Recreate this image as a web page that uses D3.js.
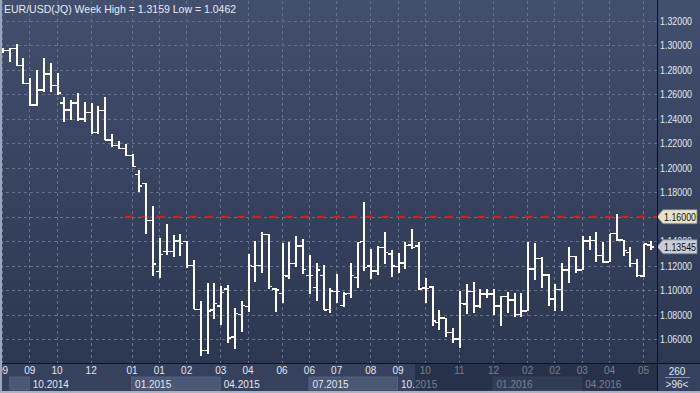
<!DOCTYPE html>
<html lang="en">
<head>
<meta charset="UTF-8">
<title>EUR/USD(JQ) Week</title>
<style>
  body { margin: 0; background: #2f3a55; }
  svg { display: block; font-family: "Liberation Sans", Arial, sans-serif; }
</style>
</head>
<body>
<svg id="chart" width="700" height="393"></svg>
<script src="https://cdnjs.cloudflare.com/ajax/libs/d3/7.9.0/d3.min.js"></script>
<script>
// weekly OHLC
const opens = [1.2961,1.2955,1.2975,1.2833,1.2689,1.2512,1.2634,1.2765,1.2669,1.2528,
  1.2471,1.2528,1.2398,1.2452,1.2286,1.2465,1.2226,1.2183,1.2158,1.2100,
  1.1946,1.1871,1.1569,1.1154,1.1316,1.1316,1.1403,1.1398,1.1200,1.0844,
  1.0506,1.0838,1.0871,1.1008,1.0616,1.0803,1.0865,1.1192,1.1200,1.1456,
  1.1010,1.0975,1.1116,1.1220,1.1361,1.1118,1.1024,1.1122,1.0844,1.0988,
  1.0874,1.0975,1.1105,1.1396,1.1198,1.1157,1.1347,1.1296,1.1192,1.1224,
  1.1369,1.1361,1.1018,1.1026,1.0738,1.0773,1.0655,1.0602,1.0887,1.0988,
  1.0871,1.0969,1.0969,1.0871,1.0947,1.0920,1.0803,1.0830,1.1173,1.1260,
  1.1124,1.0928,1.1007,1.1165,1.1274,1.1165,1.1402,1.1406,1.1283,1.1230,
  1.1461,1.1408,1.1308,1.1220,1.1117,1.1369];
const highs = [1.2977,1.2980,1.3006,1.2898,1.2730,1.2798,1.2898,1.2852,1.2776,1.2577,
  1.2553,1.2607,1.2539,1.2526,1.2504,1.2580,1.2273,1.2222,1.2191,1.2109,
  1.1981,1.1875,1.1687,1.1428,1.1539,1.1451,1.1457,1.1398,1.1247,1.0912,
  1.1056,1.1056,1.1033,1.1043,1.0855,1.0912,1.1296,1.1402,1.1473,1.1459,
  1.1016,1.1388,1.1391,1.1443,1.1416,1.1287,1.1225,1.1206,1.1020,1.1132,
  1.0983,1.1225,1.1391,1.1718,1.1336,1.1363,1.1473,1.1328,1.1306,1.1396,
  1.1500,1.1396,1.1102,1.1037,1.0838,1.0776,1.0691,1.0994,1.1048,1.1065,
  1.1007,1.1007,1.1007,1.0953,1.0988,1.0980,1.0980,1.1391,1.1388,1.1269,
  1.1131,1.1047,1.1220,1.1351,1.1283,1.1443,1.1443,1.1475,1.1396,1.1462,
  1.1624,1.1410,1.1355,1.1253,1.1381,1.1403];
const lows = [1.2936,1.2860,1.2833,1.2681,1.2506,1.2506,1.2620,1.2616,1.2594,1.2373,
  1.2389,1.2381,1.2371,1.2273,1.2273,1.2226,1.2169,1.2149,1.2098,1.2006,
  1.1804,1.1461,1.1118,1.1102,1.1289,1.1274,1.1281,1.1179,1.0844,1.0463,
  1.0479,1.0763,1.0720,1.0571,1.0522,1.0661,1.0825,1.1069,1.1138,1.1007,
  1.0825,1.0893,1.1089,1.1192,1.1130,1.0969,1.0914,1.0838,1.0811,1.0898,
  1.0860,1.0934,1.1020,1.1157,1.1089,1.1124,1.1214,1.1110,1.1138,1.1173,
  1.1336,1.1002,1.0898,1.0710,1.0675,1.0620,1.0573,1.0526,1.0807,1.0811,
  1.0852,1.0934,1.0798,1.0710,1.0811,1.0784,1.0784,1.0830,1.1083,1.1020,
  1.0871,1.0830,1.0830,1.1059,1.1143,1.1163,1.1328,1.1233,1.1222,1.1230,
  1.1402,1.1279,1.1188,1.1106,1.1108,1.1328];
const closes = [1.2955,1.2975,1.2833,1.2689,1.2512,1.2634,1.2765,1.2669,1.2610,1.2471,
  1.2528,1.2398,1.2452,1.2286,1.2465,1.2226,1.2183,1.2158,1.2100,1.2010,
  1.1851,1.1569,1.1212,1.1293,1.1316,1.1403,1.1383,1.1202,1.0844,1.0506,
  1.0830,1.0893,1.0983,1.0611,1.0811,1.0874,1.1200,1.1200,1.1456,1.1029,
  1.1002,1.1118,1.1220,1.1361,1.1171,1.1118,1.1165,1.0838,1.0994,1.0988,
  1.0969,1.1122,1.1391,1.1184,1.1157,1.1347,1.1306,1.1198,1.1224,1.1363,
  1.1350,1.1010,1.1012,1.0749,1.0773,1.0655,1.0602,1.0893,1.0988,1.0871,
  1.0969,1.0969,1.0871,1.0947,1.0920,1.0803,1.0830,1.1173,1.1260,1.1124,
  1.0928,1.1007,1.1165,1.1274,1.1165,1.1402,1.1406,1.1283,1.1230,1.1461,
  1.1408,1.1324,1.1220,1.1118,1.1379,1.13545];

// bottom axis: bar index of each month tick and its label
const monthTicks = [0,4,8,13,19,23,27,32,36,41,45,49,54,58,62,67,72,77,81,85,89,94];
const monthLabels = ["09","09","10","12","01","01","02","03","04","06","06","07",
  "08","09","10","11","12","02","02","03","04","05"];
// quarter strip: start bar index and label
const quarterStarts = [1.15,4,19,32,45,58,72,85];
const quarterLabels = ["","10.2014","01.2015","04.2015","07.2015","10.2015","01.2016","04.2016"];

const priceTicks = [1.06,1.08,1.10,1.12,1.14,1.16,1.18,1.20,1.22,1.24,1.26,1.28,1.30,1.32];
const title = "EUR/USD(JQ) Week High = 1.3159 Low = 1.0462";
const levelPrice = 1.16, levelFromBar = 18;
const lastPrice = 1.13545;
const totalBars = 260, visibleBars = 96;

const W = 700, H = 393;
const plotRight = 657, plotBottom = 363.5, scrollFrom = 415;

const svg = d3.select("#chart");
const defs = svg.append("defs");
const bg = defs.append("linearGradient").attr("id", "bg")
  .attr("x1", 0).attr("y1", 0).attr("x2", 0).attr("y2", 1);
bg.append("stop").attr("offset", "0%").attr("stop-color", "#424f6d");
bg.append("stop").attr("offset", "100%").attr("stop-color", "#2c3751");

const x = d3.scaleLinear().domain([0, visibleBars - 1]).range([2, 2 + 6.82 * (visibleBars - 1)]);
const y = d3.scaleLinear().domain([1.04, 1.32]).range([363.7, 20.7]);

svg.append("rect").attr("width", W).attr("height", plotBottom).attr("fill", "url(#bg)");

// grid
svg.append("g")
  .attr("transform", `translate(${plotRight},0)`)
  .call(d3.axisRight(y).tickValues(priceTicks).tickSize(-plotRight).tickFormat(""))
  .call(g => g.select(".domain").remove())
  .selectAll("line").attr("stroke", "#65728e").attr("stroke-dasharray", "3,3")
  .attr("shape-rendering", "crispEdges");

svg.append("g")
  .attr("transform", `translate(0,${plotBottom})`)
  .call(d3.axisBottom(x).tickValues(monthTicks).tickSize(-plotBottom).tickFormat(""))
  .call(g => g.select(".domain").remove())
  .selectAll("line").attr("stroke", "#65728e").attr("stroke-dasharray", "3,3")
  .attr("shape-rendering", "crispEdges");

// title
svg.append("text").attr("x", 4).attr("y", 12.5)
  .attr("fill", "#e6eaf2").attr("font-size", 10.5).text(title);

// resistance line
svg.append("line")
  .attr("x1", x(levelFromBar)).attr("x2", plotRight)
  .attr("y1", y(levelPrice)).attr("y2", y(levelPrice))
  .attr("stroke", "#e8141a").attr("stroke-width", 2)
  .attr("stroke-dasharray", "8,8");

// OHLC bars
const bars = svg.append("g").attr("stroke", "#fffdf6").attr("shape-rendering", "crispEdges");
const idx = d3.range(opens.length);
bars.selectAll(".hl").data(idx).join("line")
  .attr("x1", i => Math.round(x(i)) + 0.5).attr("x2", i => Math.round(x(i)) + 0.5)
  .attr("y1", i => y(highs[i])).attr("y2", i => y(lows[i]))
  .attr("stroke-width", 2);
bars.selectAll(".op").data(idx).join("line")
  .attr("x1", i => Math.round(x(i)) - 3).attr("x2", i => Math.round(x(i)))
  .attr("y1", i => y(opens[i])).attr("y2", i => y(opens[i]))
  .attr("stroke-width", 1.5);
bars.selectAll(".cl").data(idx).join("line")
  .attr("x1", i => Math.round(x(i)) + 1).attr("x2", i => Math.round(x(i)) + 4)
  .attr("y1", i => y(closes[i])).attr("y2", i => y(closes[i]))
  .attr("stroke-width", 1.5);

// right price panel
svg.append("rect").attr("x", plotRight).attr("width", W - plotRight).attr("height", plotBottom)
  .attr("fill", "url(#bg)");
const yAxis = svg.append("g")
  .attr("transform", `translate(${plotRight},0)`)
  .call(d3.axisRight(y).tickValues(priceTicks).tickSize(0).tickPadding(3)
    .tickFormat(d3.format(".5f")));
yAxis.select(".domain").remove();
yAxis.selectAll("text").attr("fill", "#e3e7ef").attr("font-size", 10.5)
  .attr("textLength", 32).attr("lengthAdjust", "spacingAndGlyphs")
  .attr("font-family", "'Liberation Sans', Arial, sans-serif");

function priceTag(price, fill) {
  const py = y(price);
  svg.append("path")
    .attr("d", `M${plotRight},${py} L${plotRight + 6},${py - 7} L${W - 3},${py - 7} L${W - 3},${py + 7} L${plotRight + 6},${py + 7} Z`)
    .attr("fill", fill).attr("stroke", "#7d8492").attr("stroke-width", 0.8);
  svg.append("text").attr("x", plotRight + 7).attr("y", py + 3.8)
    .attr("fill", "#111").attr("font-size", 11)
    .attr("textLength", 32).attr("lengthAdjust", "spacingAndGlyphs")
    .text(d3.format(".5f")(price));
}
priceTag(levelPrice, "#e5e2c6");
priceTag(lastPrice, "#c9cdd6");

// bottom strip
svg.append("rect").attr("y", plotBottom).attr("width", W).attr("height", H - plotBottom)
  .attr("fill", "#35415d");
quarterStarts.forEach((s, k) => {
  const x0 = x(s);
  const x1 = k + 1 < quarterStarts.length ? x(quarterStarts[k + 1]) : plotRight;
  if (k % 2 === 0) {
    svg.append("rect").attr("x", x0).attr("y", 377).attr("width", x1 - x0).attr("height", 13)
      .attr("fill", "#4a5775").attr("stroke", "#5a6886").attr("stroke-width", 0.8);
  }
  svg.append("text").attr("x", x0 + 3.5).attr("y", 388)
    .attr("fill", "#e3e7ef").attr("font-size", 10).text(quarterLabels[k]);
});

const xAxis = svg.append("g")
  .attr("transform", `translate(0,${plotBottom})`)
  .call(d3.axisBottom(x).tickValues(monthTicks).tickSize(0).tickPadding(3.5)
    .tickFormat((d, i) => monthLabels[i]));
xAxis.select(".domain").remove();
xAxis.selectAll("text").attr("fill", "#e3e7ef").attr("font-size", 10)
  .attr("font-family", "'Liberation Sans', Arial, sans-serif");

// dimmed scroll region
svg.append("rect").attr("x", scrollFrom).attr("y", plotBottom + 0.5)
  .attr("width", plotRight - scrollFrom).attr("height", H - plotBottom - 3)
  .attr("fill", "#1c2438").attr("opacity", 0.55);

// bar count box
svg.append("rect").attr("x", plotRight).attr("y", plotBottom).attr("width", W - plotRight)
  .attr("height", H - plotBottom).attr("fill", "#35415d");
svg.append("text").attr("x", 677).attr("y", 374.5).attr("text-anchor", "middle")
  .attr("fill", "#e3e7ef").attr("font-size", 10).text(totalBars);
svg.append("line").attr("x1", 665).attr("x2", 690).attr("y1", 377.5).attr("y2", 377.5)
  .attr("stroke", "#9aa3b6").attr("stroke-width", 0.8);
svg.append("text").attr("x", 677).attr("y", 388).attr("text-anchor", "middle")
  .attr("fill", "#e3e7ef").attr("font-size", 10).text(">" + visibleBars + "<");

// frame
svg.append("line").attr("x1", 0).attr("x2", W).attr("y1", plotBottom).attr("y2", plotBottom)
  .attr("stroke", "#0d1220").attr("stroke-width", 1);
svg.append("line").attr("x1", plotRight + 0.5).attr("x2", plotRight + 0.5).attr("y1", 0).attr("y2", H - 2)
  .attr("stroke", "#0d1220").attr("stroke-width", 1);
svg.append("rect").attr("x", 0).attr("y", 0).attr("width", 2).attr("height", H)
  .attr("fill", "#9aa6bd");
svg.append("rect").attr("x", 0).attr("y", H - 2).attr("width", W).attr("height", 2)
  .attr("fill", "#aab2c2");
</script>
</body>
</html>
